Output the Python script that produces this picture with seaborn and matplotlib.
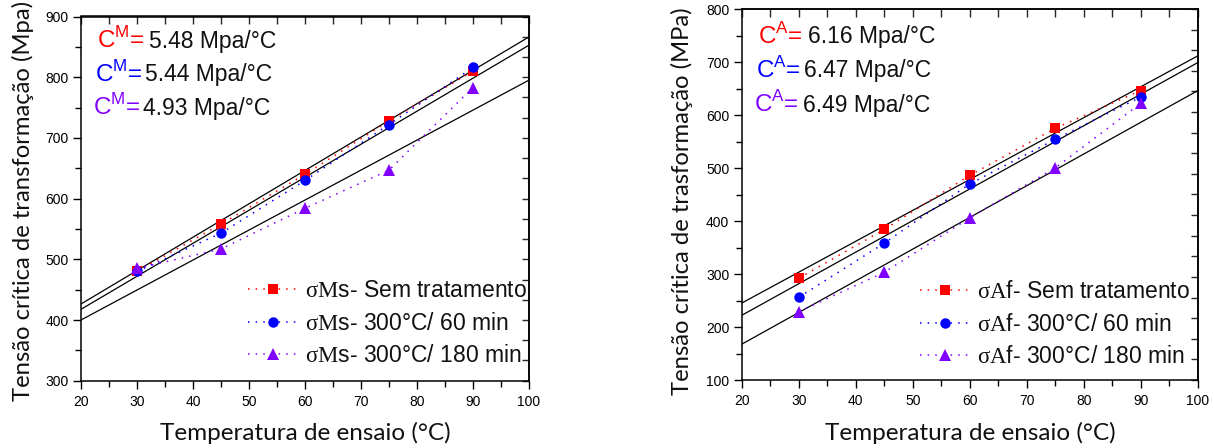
import numpy as np
import pandas as pd
import matplotlib
matplotlib.use("Agg")
import matplotlib.pyplot as plt
import seaborn as sns
from matplotlib.ticker import MultipleLocator, LinearLocator

# ---------------- data ----------------
temps = [30, 45, 60, 75, 90]

ms_sem = [480, 558, 640, 728, 810]
ms_60 = [480, 543, 630, 722, 816]
ms_180 = [485, 517, 584, 647, 783]

af_sem = [292, 384, 486, 575, 646]
af_60 = [256, 358, 470, 554, 634]
af_180 = [229, 303, 406, 500, 622]

# linear fits drawn on the chart (slope, intercept)
ms_fit_slope = [5.50, 5.44, 4.94]
ms_fit_intercept = [316.4, 308.8, 301.2]
af_fit_slope = [5.83, 5.96, 5.98]
af_fit_intercept = [128.5, 102.8, 47.9]

ms_coef = ["5.48", "5.44", "4.93"]
af_coef = ["6.16", "6.47", "6.49"]

series_names = ["Sem tratamento", "300°C/ 60 min", "300°C/ 180 min"]
colors = ["#ff0000", "#0000ff", "#8000ff"]
markers = ["s", "o", "^"]
msizes = [7, 7.5, 8]

W, H = 1214, 448

sns.set_theme(style="white")
plt.rcParams["font.family"] = ["Liberation Sans", "DejaVu Sans"]
plt.rcParams["mathtext.fontset"] = "custom"
plt.rcParams["mathtext.rm"] = "Liberation Serif"
plt.rcParams["mathtext.sf"] = "Liberation Sans"
plt.rcParams["axes.edgecolor"] = "black"
plt.rcParams["axes.linewidth"] = 1.1

fig = plt.figure(figsize=(W / 100, H / 100), dpi=100)
fig.patch.set_facecolor("white")

ax1 = fig.add_axes([81 / W, 1 - 380.7 / H, 448 / W, 364.2 / H])
ax2 = fig.add_axes([741.7 / W, 1 - 380 / H, 456 / W, 371 / H])


def build_panel(ax, series, slopes, intercepts, ylim, sym, coefs, sup,
                ann_x, ann_bx, ann_y, leg_anchor, ylabel, ylabel_x, xlabel_x):
    df = pd.DataFrame({"T": temps * 3,
                       "sigma": sum(series, []),
                       "grupo": sum([[n] * len(temps) for n in series_names], [])})
    for i, name in enumerate(series_names):
        sub = df[df["grupo"] == name]
        sns.lineplot(data=sub, x="T", y="sigma", ax=ax, color=colors[i],
                     marker=markers[i], markersize=msizes[i], markeredgewidth=0,
                     linestyle=(0, (1, 4)), linewidth=1.1,
                     label=r"$\mathrm{σ%s}$%s- %s" % (sym[0], sym[1], name),
                     zorder=3)
    for m, b in zip(slopes, intercepts):
        ax.axline((0, b), slope=m, color="black", linewidth=0.9, zorder=2)

    ax.set_xlim(20, 100)
    ax.set_ylim(*ylim)
    ax.set_xlabel("")
    ax.set_ylabel("")
    ax.xaxis.set_major_locator(MultipleLocator(10))
    ax.xaxis.set_minor_locator(MultipleLocator(5))
    ax.yaxis.set_major_locator(MultipleLocator(100))
    ax.yaxis.set_minor_locator(MultipleLocator(50))
    ax.tick_params(which="both", direction="out", top=False, right=False,
                   left=True, bottom=True, width=1, color="black",
                   labelsize=10, labelcolor="black")
    ax.tick_params(which="major", length=6, pad=3)
    ax.tick_params(which="minor", length=4)
    ax.tick_params(axis="x", pad=4)
    for s in ax.spines.values():
        s.set_color("black")
        s.set_linewidth(1.1)

    top = ax.secondary_xaxis("top")
    top.xaxis.set_major_locator(MultipleLocator(5))
    top.tick_params(direction="in", length=6, width=1, labeltop=False)
    top.spines["top"].set_linewidth(1.1)
    right = ax.secondary_yaxis("right")
    right.yaxis.set_major_locator(LinearLocator(19))
    right.tick_params(direction="in", length=5, width=1, labelright=False)
    right.spines["right"].set_linewidth(1.1)

    leg = ax.legend(loc="upper left", bbox_to_anchor=leg_anchor,
                    bbox_transform=fig.transFigure, frameon=False,
                    fontsize=16.5, handlelength=2.2, handletextpad=0.28,
                    labelspacing=0.42, borderpad=0, borderaxespad=0,
                    numpoints=1)
    for t in leg.get_texts():
        t.set_color("#111111")

    for i in range(3):
        fig.text(ann_x[i] / W, 1 - ann_y[i] / H, r"C$^{\mathsf{%s}}$=" % sup,
                 color=colors[i], fontsize=17.5, va="baseline", ha="left")
        fig.text(ann_bx[i] / W, 1 - ann_y[i] / H, "%s Mpa/°C" % coefs[i],
                 color="#111111", fontsize=16.5, va="baseline", ha="left")

    fig.text(ylabel_x / W, 1 - 201 / H, ylabel, rotation=90, ha="center",
             va="center", fontsize=17.2, family=["Lato", "DejaVu Sans"],
             color="#111111")
    fig.text(xlabel_x / W, 1 - 433 / H, "Temperatura de ensaio (°C)",
             ha="center", va="center", fontsize=17.5,
             family=["Lato", "DejaVu Sans"], color="#111111")


build_panel(ax1, [ms_sem, ms_60, ms_180], ms_fit_slope, ms_fit_intercept,
            (300, 900), ("M", "s"), ms_coef, "M",
            [97, 95, 93], [149, 145, 143], [48, 81.5, 115],
            (248 / W, 1 - 279 / H),
            "Tensão crítica de transformação (Mpa)", 23, 305)
build_panel(ax2, [af_sem, af_60, af_180], af_fit_slope, af_fit_intercept,
            (100, 800), ("A", "f"), af_coef, "A",
            [758, 756, 754], [808, 804, 803], [43.5, 77.5, 112],
            (920 / W, 1 - 280 / H),
            "Tensão crítica de trasformação (MPa)", 682, 970)

fig.savefig("out.png", dpi=100, facecolor="white")
